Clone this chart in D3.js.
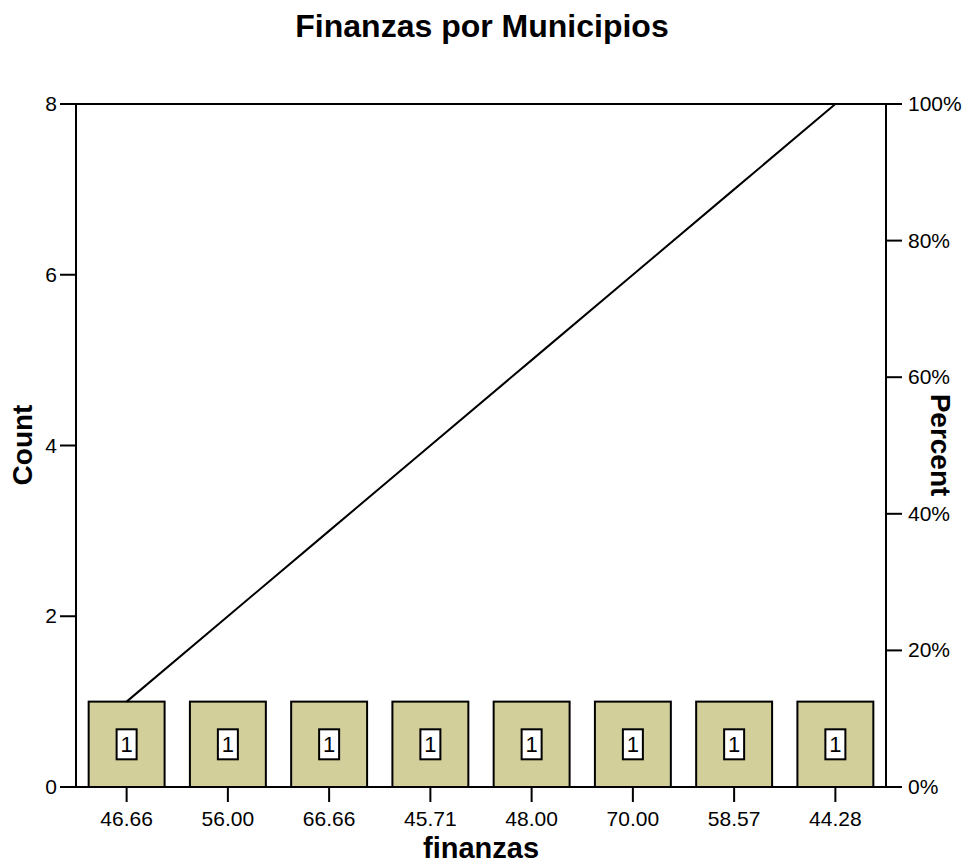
<!DOCTYPE html>
<html lang="en">
<head>
  <meta charset="utf-8">
  <title>Finanzas por Municipios</title>
  <script src="https://d3js.org/d3.v7.min.js"></script>
  <style>
    body { margin: 0; background: #fff; }
    svg text { font-family: "Liberation Sans", Arial, sans-serif; fill: #000; }
  </style>
</head>
<body>
  <div id="chart"></div>
  <script>
    var categories = ["46.66", "56.00", "66.66", "45.71", "48.00", "70.00", "58.57", "44.28"];
    var counts = [1, 1, 1, 1, 1, 1, 1, 1];
    var countTicks = [0, 2, 4, 6, 8];
    var percentTicks = [0, 20, 40, 60, 80, 100];

    var width = 964, height = 867;
    var m = { left: 76, right: 886, top: 104, bottom: 787 };

    var svg = d3.select("#chart").append("svg")
      .attr("width", width)
      .attr("height", height);

    var x = d3.scaleBand().domain(categories).range([m.left, m.right]).paddingInner(0.25).paddingOuter(0.125);
    var y = d3.scaleLinear().domain([0, 8]).range([m.bottom, m.top]);
    var total = d3.sum(counts);
    var yp = d3.scaleLinear().domain([0, 100]).range([m.bottom, y(total)]);

    // cumulative percent
    var cum = [];
    var run = 0;
    counts.forEach(function(c, i) { run += c; cum.push({ cat: categories[i], pct: run / total * 100 }); });

    // top frame line
    svg.append("line").attr("x1", m.left).attr("x2", m.right).attr("y1", m.top).attr("y2", m.top)
      .attr("stroke", "#000").attr("stroke-width", 2);

    // bars
    svg.selectAll("rect.bar").data(counts).enter().append("rect")
      .attr("class", "bar")
      .attr("x", function(d, i) { return x(categories[i]); })
      .attr("y", function(d) { return y(d); })
      .attr("width", x.bandwidth())
      .attr("height", function(d) { return y(0) - y(d); })
      .attr("fill", "#d3cf9b")
      .attr("stroke", "#000")
      .attr("stroke-width", 2);

    // value labels
    var lab = svg.selectAll("g.lab").data(counts).enter().append("g")
      .attr("class", "lab")
      .attr("transform", function(d, i) {
        return "translate(" + (x(categories[i]) + x.bandwidth() / 2) + "," + ((y(d) + y(0)) / 2) + ")";
      });
    lab.append("rect").attr("x", -10).attr("y", -15).attr("width", 20).attr("height", 30)
      .attr("fill", "#fff").attr("stroke", "#000").attr("stroke-width", 2);
    lab.append("text").attr("text-anchor", "middle").attr("y", 8).attr("font-size", 22)
      .text(function(d) { return d; });

    // cumulative line
    var line = d3.line()
      .x(function(d) { return x(d.cat) + x.bandwidth() / 2; })
      .y(function(d) { return yp(d.pct); });
    svg.append("path").datum(cum).attr("d", line)
      .attr("fill", "none").attr("stroke", "#000").attr("stroke-width", 2);

    // left axis
    var gl = svg.append("g").attr("transform", "translate(" + m.left + ",0)");
    gl.append("line").attr("y1", m.top).attr("y2", m.bottom).attr("stroke", "#000").attr("stroke-width", 2);
    gl.selectAll("line.t").data(countTicks).enter().append("line").attr("class", "t")
      .attr("x1", -16).attr("x2", 0).attr("y1", y).attr("y2", y).attr("stroke", "#000").attr("stroke-width", 2);
    gl.selectAll("text").data(countTicks).enter().append("text")
      .attr("x", -19).attr("y", function(d) { return y(d) + 7; })
      .attr("text-anchor", "end").attr("font-size", 21).text(function(d) { return d; });

    // right axis
    var gr = svg.append("g").attr("transform", "translate(" + m.right + ",0)");
    gr.append("line").attr("y1", m.top).attr("y2", m.bottom).attr("stroke", "#000").attr("stroke-width", 2);
    gr.selectAll("line.t").data(percentTicks).enter().append("line").attr("class", "t")
      .attr("x1", 0).attr("x2", 16).attr("y1", yp).attr("y2", yp).attr("stroke", "#000").attr("stroke-width", 2);
    gr.selectAll("text").data(percentTicks).enter().append("text")
      .attr("x", 22).attr("y", function(d) { return yp(d) + 7; })
      .attr("text-anchor", "start").attr("font-size", 21).text(function(d) { return d + "%"; });

    // bottom axis
    var gb = svg.append("g").attr("transform", "translate(0," + m.bottom + ")");
    gb.append("line").attr("x1", m.left - 16).attr("x2", m.right + 16).attr("stroke", "#000").attr("stroke-width", 2);
    gb.selectAll("line.t").data(categories).enter().append("line").attr("class", "t")
      .attr("x1", function(d) { return x(d) + x.bandwidth() / 2; })
      .attr("x2", function(d) { return x(d) + x.bandwidth() / 2; })
      .attr("y1", 0).attr("y2", 15).attr("stroke", "#000").attr("stroke-width", 2);
    gb.selectAll("text").data(categories).enter().append("text")
      .attr("x", function(d) { return x(d) + x.bandwidth() / 2; })
      .attr("y", 39).attr("text-anchor", "middle").attr("font-size", 21).text(function(d) { return d; });

    // titles
    svg.append("text").attr("x", 482).attr("y", 37).attr("text-anchor", "middle")
      .attr("font-size", 32).attr("font-weight", "bold").text("Finanzas por Municipios");
    svg.append("text").attr("x", 481).attr("y", 858).attr("text-anchor", "middle")
      .attr("font-size", 29).attr("font-weight", "bold").text("finanzas");
    svg.append("text").attr("transform", "translate(32,445) rotate(-90)").attr("text-anchor", "middle")
      .attr("font-size", 28).attr("font-weight", "bold").text("Count");
    svg.append("text").attr("transform", "translate(931,445) rotate(90)").attr("text-anchor", "middle")
      .attr("font-size", 28).attr("font-weight", "bold").text("Percent");
  </script>
</body>
</html>
